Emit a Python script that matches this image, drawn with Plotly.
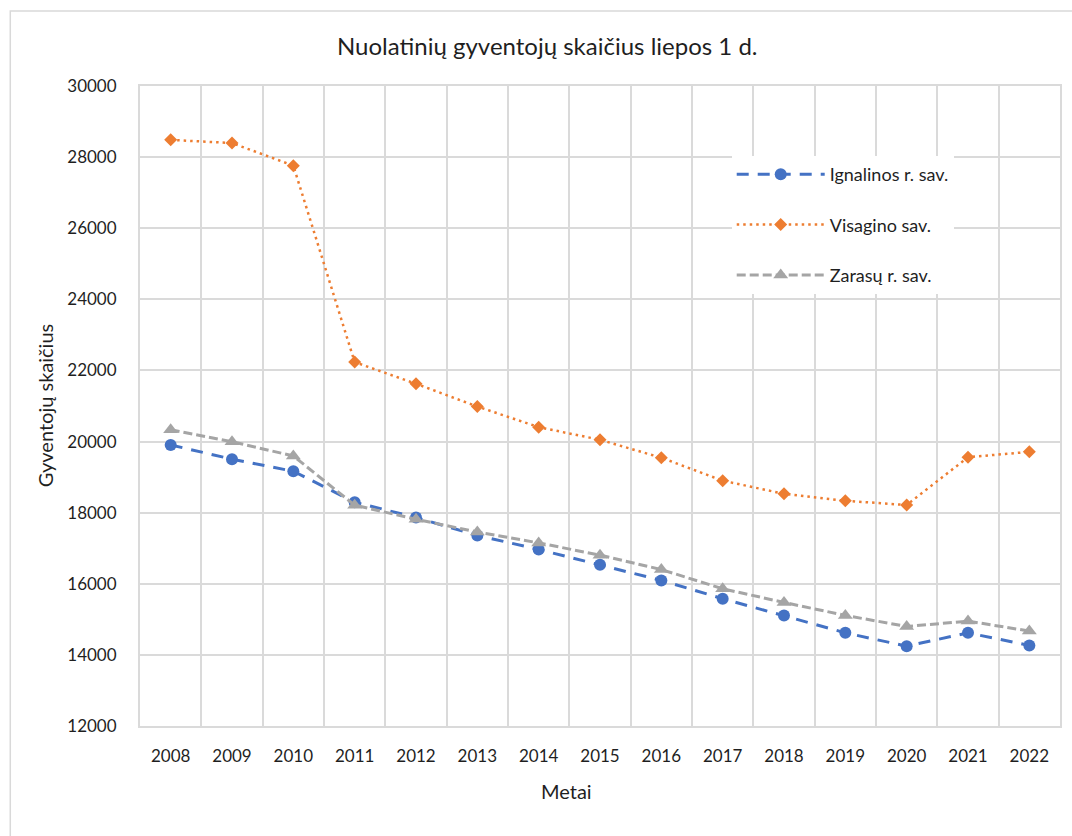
import plotly.graph_objects as go

# Resident population on 1 July, by municipality
years = ["2008", "2009", "2010", "2011", "2012", "2013", "2014", "2015",
         "2016", "2017", "2018", "2019", "2020", "2021", "2022"]
ignalina = [19905, 19505, 19165, 18295, 17865, 17360, 16965, 16535,
            16095, 15580, 15105, 14620, 14245, 14620, 14265]
visaginas = [28485, 28395, 27760, 22235, 21625, 20985, 20405, 20050,
             19545, 18900, 18530, 18335, 18215, 19560, 19710]
zarasai = [20330, 19995, 19595, 18210, 17815, 17455, 17150, 16805,
           16400, 15860, 15475, 15110, 14800, 14950, 14670]

series_names = ["Ignalinos r. sav.", "Visagino sav.", "Zarasų r. sav."]
y_ticks = [12000, 14000, 16000, 18000, 20000, 22000, 24000, 26000, 28000, 30000]

W, H = 1072, 836
ML, MR, MT, MB = 140, 10, 86, 110
PW, PH = W - ML - MR, H - MT - MB


def px_x(x):
    return (x - ML) / PW


def px_y(y):
    return 1 - (y - MT) / PH


FONT = "Lato"
TXT = "#1f1f1f"
GRID = "#dadada"

fig = go.Figure()
fig.add_trace(go.Scatter(
    x=years, y=ignalina, name=series_names[0], mode="lines+markers",
    legendgroup="a",
    line=dict(color="#4472C4", width=3, dash="12px,9px"),
    marker=dict(symbol="circle", size=12, color="#4472C4"),
))
fig.add_trace(go.Scatter(
    x=years, y=visaginas, name=series_names[1], mode="lines+markers",
    legendgroup="b",
    line=dict(color="#ED7D31", width=2.5, dash="2.5px,4px"),
    marker=dict(symbol="diamond", size=10, color="#ED7D31"),
))
fig.add_trace(go.Scatter(
    x=years, y=zarasai, name=series_names[2], mode="lines+markers",
    legendgroup="c",
    line=dict(color="#A5A5A5", width=3, dash="9px,4px"),
    marker=dict(symbol="triangle-up", size=13, color="#A5A5A5"),
))

fig.update_layout(
    width=W, height=H,
    margin=dict(l=ML, r=MR, t=MT, b=MB, pad=0),
    paper_bgcolor="white", plot_bgcolor="white",
    font=dict(family=FONT, size=17, color=TXT),
    showlegend=True,
    legend=dict(
        x=px_x(733), y=px_y(156), xanchor="left", yanchor="top",
        bgcolor="white", borderwidth=0,
        font=dict(family=FONT, size=18, color=TXT),
        traceorder="grouped", tracegroupgap=24, itemwidth=88,
        entrywidth=190,
    ),
    xaxis=dict(
        type="category", tickson="boundaries", showgrid=True,
        gridcolor=GRID, gridwidth=2, ticks="", ticklabelstandoff=14,
        showline=True, linecolor=GRID, linewidth=2, mirror=True,
        range=[-0.5, 14.5], zeroline=False,
        tickfont=dict(family=FONT, size=17, color=TXT),
    ),
    yaxis=dict(
        range=[12000, 30000], tickvals=y_ticks, showgrid=True,
        gridcolor=GRID, gridwidth=2, ticks="", ticklabelstandoff=18,
        showline=True, linecolor=GRID, linewidth=2, mirror=True,
        zeroline=False, tickformat="d",
        tickfont=dict(family=FONT, size=17, color=TXT),
    ),
    annotations=[
        dict(text="Nuolatinių gyventojų skaičius liepos 1 d.",
             xref="paper", yref="paper", x=px_x(548), y=px_y(45),
             xanchor="center", yanchor="middle", showarrow=False,
             font=dict(family=FONT, size=24, color=TXT)),
        dict(text="Metai", xref="paper", yref="paper",
             x=px_x(567), y=px_y(791), xanchor="center", yanchor="middle",
             showarrow=False, font=dict(family=FONT, size=20, color=TXT)),
        dict(text="Gyventojų skaičius", xref="paper", yref="paper",
             x=px_x(45), y=px_y(406), xanchor="center", yanchor="middle",
             textangle=-90, showarrow=False,
             font=dict(family=FONT, size=20, color=TXT)),
    ],
    shapes=[
        dict(type="rect", xref="paper", yref="paper",
             x0=px_x(10), x1=px_x(1090), y0=px_y(860), y1=px_y(11),
             line=dict(color="#d9d9d9", width=1.5), layer="below"),
    ],
)

fig.write_html("out.html")
